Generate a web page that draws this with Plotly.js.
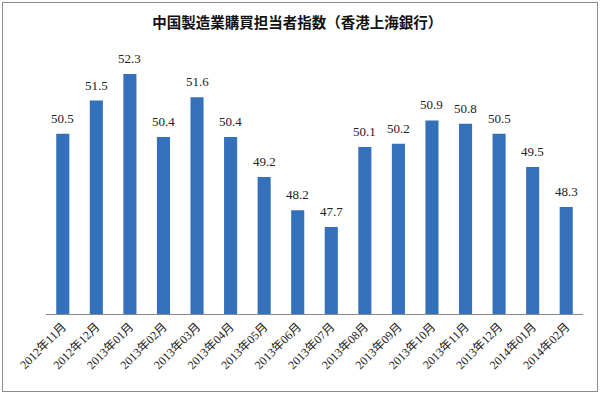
<!DOCTYPE html>
<html><head><meta charset="utf-8">
<script src="https://cdn.plot.ly/plotly-3.0.1.min.js"></script>
<style>html,body{margin:0;padding:0;background:#fff}#wrap{position:relative;width:603px;height:394px}#chart{width:603px;height:394px}#frame{position:absolute;left:2px;top:2px;width:594px;height:388px;border:1px solid #8c8c8c;pointer-events:none}</style>
</head><body>
<div id="wrap"><div id="chart"></div><div id="frame"></div></div>
<script>
const months = ["2012年11月","2012年12月","2013年01月","2013年02月","2013年03月","2013年04月","2013年05月","2013年06月","2013年07月","2013年08月","2013年09月","2013年10月","2013年11月","2013年12月","2014年01月","2014年02月"];
const pmi = [50.5,51.5,52.3,50.4,51.6,50.4,49.2,48.2,47.7,50.1,50.2,50.9,50.8,50.5,49.5,48.3];
const serif = '"Liberation Serif", "Times New Roman", "Noto Sans CJK JP", serif';
Plotly.newPlot('chart', [{
  type: 'bar', x: months, y: pmi,
  marker: {color: '#3570bb', line: {width: 0}},
  width: 0.39,
  hoverinfo: 'none'
}], {
  width: 603, height: 394,
  margin: {l: 46, r: 20, t: 40, b: 80},
  paper_bgcolor: 'rgba(0,0,0,0)', plot_bgcolor: 'rgba(0,0,0,0)',
  title: {text: '中国製造業購買担当者指数（香港上海銀行）', x: 0.493, xanchor: 'center', y: 0.943, yanchor: 'middle',
    font: {family: '"Noto Sans CJK JP", sans-serif', size: 14.5, color: '#111', weight: 'bold'}},
  xaxis: {type: 'category', showline: true, linecolor: '#888', linewidth: 1, ticks: '', tickangle: -45,
    tickfont: {family: serif, size: 12, color: '#222'}, showgrid: false, fixedrange: true},
  yaxis: {range: [45.08, 53.32], visible: false, showgrid: false, zeroline: false, fixedrange: true},
  annotations: months.map((m, i) => ({x: m, y: pmi[i], xref: 'x', yref: 'y', text: pmi[i].toFixed(1),
    showarrow: false, yanchor: 'bottom', yshift: 6,
    font: {family: serif, size: 13, color: '#222'}})),
  showlegend: false, bargap: 0.61
}, {displayModeBar: false, staticPlot: true});
</script>
</body></html>
